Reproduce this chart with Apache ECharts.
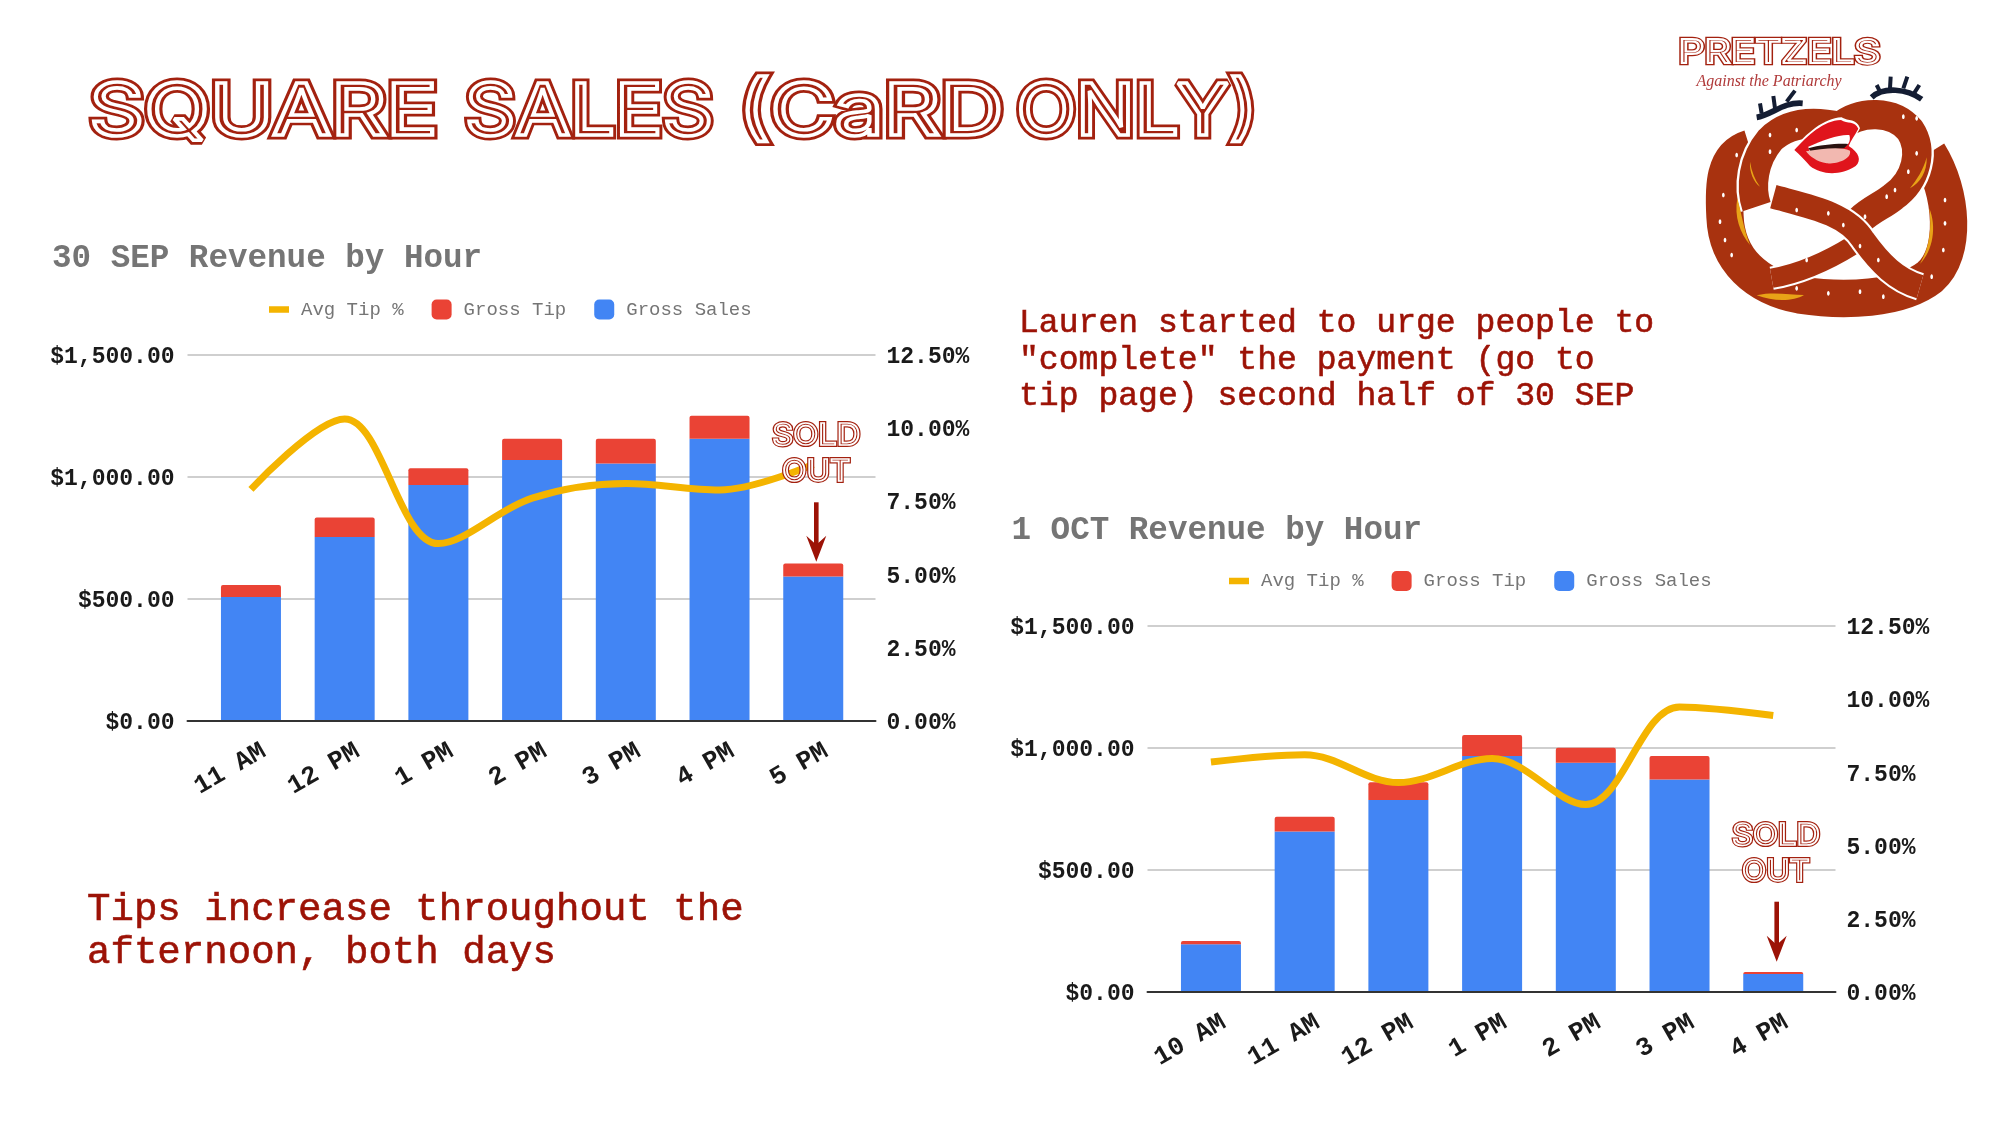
<!DOCTYPE html>
<html lang="en">
<head>
  <meta charset="UTF-8">
  <title>Square Sales</title>
  <script src="https://cdn.jsdelivr.net/npm/echarts@6/dist/echarts.min.js"></script>
  <style>
    html, body { margin: 0; padding: 0; background: #fff; }
    #main { width: 2000px; height: 1125px; }
  </style>
</head>
<body>
  <div id="main"></div>
  <script type="text/javascript">
    // 30 SEP
    var sepHours = ['11 AM', '12 PM', '1 PM', '2 PM', '3 PM', '4 PM', '5 PM'];
    var sepSales = [508, 753, 966, 1068, 1054, 1155, 591];
    var sepTips = [49, 80, 68, 87, 101, 94, 54];
    var sepTipPct = [7.9, 10.3, 6.05, 7.6, 8.1, 7.88, 8.75];

    // 1 OCT
    var octHours = ['10 AM', '11 AM', '12 PM', '1 PM', '2 PM', '3 PM', '4 PM'];
    var octSales = [196, 658, 787, 967, 939, 871, 75];
    var octTips = [14, 60, 72, 86, 61, 96, 8];
    var octTipPct = [7.85, 8.1, 7.15, 7.97, 6.4, 9.73, 9.44];

    var legendNames = ['Avg Tip %', 'Gross Tip', 'Gross Sales'];

    var MONO = '"Liberation Mono", monospace';
    var DARK_RED = '#9c1206';
    var STRIPE = '#a3210f';
    var BROWN = '#a8320f';
    var YELLOW = '#f4b400';
    // thin sliver at x=0 keeps the path box square, so the bar stays flat in the legend
    var LINE_ICON = 'path://M0 0L0.01 0L0.01 20L0 20Z M0 6.7H20V13.3H0Z';

    var myChart = echarts.init(document.getElementById('main'));

    // pile of outlined copies, gives the concentric stripes of the original lettering
    function stripedText(text, x, y, size, widths, sx) {
      var font = size + 'px Inter, sans-serif';
      return widths.map(function (w, i) {
        return {
          type: 'text',
          z: 100,
          silent: true,
          x: x, y: y, scaleX: sx || 1,
          style: {
            text: text, x: 0, y: 0, font: font,
            align: 'center', verticalAlign: 'middle',
            fill: i === 0 ? STRIPE : 'none',
            stroke: i % 2 === 0 ? STRIPE : '#fff',
            lineWidth: w, lineJoin: 'round'
          }
        };
      });
    }

    function plainText(text, x, y, size, color, bold) {
      return {
        type: 'text',
        z: 100,
        style: {
          text: text, x: x, y: y,
          font: (bold ? 'bold ' : '') + size + 'px ' + MONO,
          fill: color, stroke: bold ? 'none' : color, lineWidth: bold ? 0 : 0.6,
          verticalAlign: 'middle'
        }
      };
    }

    function arrow(x, y0, y1) {
      return [{
        type: 'line', z: 100,
        shape: { x1: x, y1: y0, x2: x, y2: y1 - 12 },
        style: { stroke: DARK_RED, lineWidth: 4.6 }
      }, {
        type: 'polygon', z: 100,
        shape: { points: [[x - 10, y1 - 26], [x, y1 - 17], [x + 10, y1 - 26], [x, y1]] },
        style: { fill: DARK_RED }
      }];
    }

    // the graphic component has no plain path type, so logo paths are registered as shapes
    var pathCount = 0;
    function pathEl(d, style) {
      var name = 'logoPath' + (pathCount++);
      echarts.graphic.registerShape(name, echarts.graphic.extendPath(d));
      return { type: name, style: style };
    }
    function stroke(d, color, w) {
      return pathEl(d, { fill: 'none', stroke: color, lineWidth: w, lineCap: 'butt' });
    }
    function shape(d, color) {
      return pathEl(d, { fill: color });
    }

    // logo, in the coordinates of a 1020x930 box
    function logo() {
      var outer = 'M 270 385 C 190 410 190 500 195 590 C 200 720 290 800 420 825 C 550 845 720 840 810 770 C 890 700 880 520 805 400';
      var heart = 'M 290 560 C 270 500 280 420 330 360 C 380 310 450 300 540 320 C 600 270 700 270 750 330 C 790 390 770 480 700 530 C 670 555 630 570 600 600';
      var armA = 'M 335 775 C 420 760 500 725 580 675';
      var armB = 'M 340 530 C 450 560 560 580 610 660 C 660 730 710 780 780 800';
      var salt = [[330, 345], [410, 330], [330, 395], [770, 400], [745, 455], [705, 510], [680, 530], [615, 590], [505, 580], [550, 615], [410, 570],
        [600, 678], [655, 720], [440, 720], [190, 525], [180, 605], [195, 660], [215, 705], [855, 540], [855, 610], [850, 690], [815, 770],
        [410, 805], [505, 820], [600, 815], [670, 830], [230, 405], [730, 290], [770, 295]];
      var kids = [
        stroke(outer, BROWN, 112),
        stroke(heart, '#fff', 102),
        stroke(heart, BROWN, 88),
        stroke(armA, '#fff', 70),
        stroke(armA, BROWN, 58),
        stroke(armB, '#fff', 84),
        stroke(armB, BROWN, 72),
        shape('M 270 425 C 275 455 285 480 300 500 C 280 485 268 455 270 425 Z', '#e8a317'),
        shape('M 232 535 C 222 590 240 640 270 675 C 250 625 245 580 232 535 Z', '#e8a317'),
        shape('M 800 412 C 790 450 770 480 750 505 C 780 490 802 455 800 412 Z', '#e8a317'),
        shape('M 808 565 C 830 620 820 690 780 732 C 810 680 815 625 808 565 Z', '#e8a317'),
        shape('M 290 826 C 340 815 390 825 432 825 C 400 845 340 845 290 826 Z', '#e8a317'),
        shape('M 395 392 C 440 340 490 295 545 292 C 565 305 590 295 600 325 C 590 345 578 362 572 378 C 605 395 612 425 592 442 C 540 475 480 472 445 442 C 430 422 415 405 395 392 Z', '#fff'),
        shape('M 403 390 C 445 345 490 302 543 300 C 562 312 585 302 595 326 C 585 345 572 362 566 378 C 598 398 605 422 587 438 C 540 468 485 465 450 438 C 435 420 420 405 403 390 Z', '#e0141c'),
        shape('M 445 380 C 490 360 540 342 568 345 C 572 358 568 368 562 375 L 448 392 Z', '#fff'),
        shape('M 445 385 C 480 375 530 370 565 372 L 552 385 L 452 394 Z', '#2a1210'),
        shape('M 438 394 C 480 388 540 378 570 392 C 575 418 530 432 500 430 C 470 425 450 410 438 394 Z', '#f2b8b0'),
        stroke('M 290 292 C 335 285 370 245 428 250', '#141d33', 17),
        stroke('M 305 280 L 300 250 M 345 265 L 340 228 M 380 245 L 405 212', '#141d33', 12),
        stroke('M 635 232 C 670 200 740 205 785 238', '#141d33', 17),
        stroke('M 660 215 L 650 195 M 690 205 L 692 170 M 730 205 L 742 170 M 762 220 L 778 195', '#141d33', 12)
      ];
      salt.forEach(function (p) {
        kids.push({ type: 'ellipse', shape: { cx: p[0], cy: p[1], rx: 4, ry: 7 }, style: { fill: '#fff' } });
      });
      return {
        type: 'group', x: 1660, y: 20, scaleX: 1 / 3, scaleY: 1 / 3, z: 90, silent: true,
        children: kids
      };
    }

    var TITLE_BANDS = [9, 3.6];
    var SMALL_BANDS = [4, 1.7];

    var graphics = [].concat(
      stripedText('SQUARE', 263.5, 113, 72, TITLE_BANDS, 1.19),
      stripedText('SALES', 589, 113, 72, TITLE_BANDS, 1.1),
      stripedText('(CaRD', 871, 113, 72, TITLE_BANDS, 1.22),
      stripedText('ONLY)', 1137, 113, 72, TITLE_BANDS, 1.085),
      plainText('30 SEP Revenue by Hour', 52, 259, 32.6, '#757575', true),
      plainText('1 OCT Revenue by Hour', 1011.5, 531, 32.6, '#757575', true),
      plainText('Lauren started to urge people to', 1019, 323, 33.1, DARK_RED, false),
      plainText('"complete" the payment (go to', 1019, 360, 33.1, DARK_RED, false),
      plainText('tip page) second half of 30 SEP', 1019, 396, 33.1, DARK_RED, false),
      plainText('Tips increase throughout the', 87, 909.5, 39.1, DARK_RED, false),
      plainText('afternoon, both days', 87, 952.5, 39.1, DARK_RED, false),
      stripedText('SOLD', 816.3, 435.5, 30, SMALL_BANDS, 1.09),
      stripedText('OUT', 816.3, 472, 30, SMALL_BANDS, 1.05),
      stripedText('SOLD', 1776, 835.5, 30, SMALL_BANDS, 1.09),
      stripedText('OUT', 1776, 872, 30, SMALL_BANDS, 1.05),
      arrow(816.3, 502.3, 561.7),
      arrow(1776.7, 901.7, 961.7),
      stripedText('PRETZELS', 1779.5, 53, 32, [4.4, 2], 1.27),
      [{
        type: 'text', z: 100,
        style: {
          text: 'Against the Patriarchy', x: 1769, y: 82,
          font: 'italic 16px "Liberation Serif", serif', fill: '#b03a3a',
          align: 'center', verticalAlign: 'middle'
        }
      }, logo()]
    );

    // each chart: an outer grid holding the rules and value labels, an inner one for the marks
    function panel(i, left, top, hours, sales, tips, pct, legendLeft, legendTop) {
      var outerW = 688;
      var innerL = left + 16.6;
      var innerW = 656;
      var h = 366.5;
      var g = i * 2;
      var yBase = { type: 'value', min: 0 };
      return {
        grid: [
          { left: left, top: top, width: outerW, height: h },
          { left: innerL, top: top, width: innerW, height: h }
        ],
        xAxis: [
          {
            gridIndex: g, type: 'value', min: 0, max: 1, splitLine: { show: false },
            axisTick: { show: false }, axisLabel: { show: false },
            axisLine: { show: true, lineStyle: { color: '#333', width: 2 } }, z: 5
          },
          {
            gridIndex: g + 1, type: 'category', data: hours,
            axisLine: { show: false }, axisTick: { show: false },
            axisLabel: {
              rotate: 30, margin: 36, color: '#1a1a1a', interval: 0,
              padding: [0, -15, 0, 0],
              fontFamily: MONO, fontSize: 26, fontWeight: 'bold'
            }
          }
        ],
        yAxis: [
          Object.assign({}, yBase, {
            gridIndex: g, position: 'left', max: 1500, interval: 500,
            axisLine: { show: false }, axisTick: { show: false },
            splitLine: { lineStyle: { color: '#cfcfcf', width: 2 } },
            axisLabel: {
              margin: 13, color: '#1a1a1a', fontFamily: MONO, fontSize: 23, fontWeight: 'bold',
              verticalAlign: 'top', lineHeight: 5,
              formatter: function (v) {
                return '$' + v.toLocaleString('en-US', { minimumFractionDigits: 2 });
              }
            }
          }),
          Object.assign({}, yBase, {
            gridIndex: g, position: 'right', max: 12.5, interval: 2.5,
            axisLine: { show: false }, axisTick: { show: false }, splitLine: { show: false },
            axisLabel: {
              margin: 11, color: '#1a1a1a', fontFamily: MONO, fontSize: 23, fontWeight: 'bold',
              verticalAlign: 'top', lineHeight: 5,
              formatter: function (v) { return v.toFixed(2) + '%'; }
            }
          }),
          Object.assign({}, yBase, { gridIndex: g + 1, max: 1500, show: false, splitLine: { show: false } }),
          Object.assign({}, yBase, { gridIndex: g + 1, max: 12.5, show: false, splitLine: { show: false } })
        ],
        series: [
          {
            name: 'Gross Sales', type: 'bar', stack: 'total' + i, data: sales, barWidth: 60,
            xAxisIndex: g + 1, yAxisIndex: i * 4 + 2, itemStyle: { color: '#4285f4' }
          },
          {
            name: 'Gross Tip', type: 'bar', stack: 'total' + i, data: tips, barWidth: 60,
            xAxisIndex: g + 1, yAxisIndex: i * 4 + 2, itemStyle: { color: '#ea4335', borderRadius: [2, 2, 0, 0] }
          },
          {
            name: 'Avg Tip %', type: 'line', data: pct, smooth: 0.35, symbol: 'none', z: 6,
            xAxisIndex: g + 1, yAxisIndex: i * 4 + 3,
            lineStyle: { color: YELLOW, width: 7 }, itemStyle: { color: YELLOW }
          }
        ],
        legend: {
          left: legendLeft, top: legendTop, itemWidth: 20, itemHeight: 20,
          data: legendNames.map(function (n, k) {
            return k === 0 ? { name: n, icon: LINE_ICON } : { name: n };
          }),
          itemGap: 28, selectedMode: false, padding: 0,
          textStyle: { color: '#757575', fontFamily: MONO, fontSize: 19, padding: [0, 0, 0, 7] }
        }
      };
    }

    var a = panel(0, 187.5, 354.5, sepHours, sepSales, sepTips, sepTipPct, 269, 299.5);
    var b = panel(1, 1147.5, 625.7, octHours, octSales, octTips, octTipPct, 1229, 571);

    var option = {
      animation: false,
      backgroundColor: '#fff',
      textStyle: { fontFamily: MONO },
      grid: a.grid.concat(b.grid),
      xAxis: a.xAxis.concat(b.xAxis),
      yAxis: a.yAxis.concat(b.yAxis),
      series: a.series.concat(b.series),
      legend: [a.legend, b.legend],
      graphic: graphics
    };

    myChart.setOption(option);
  </script>
</body>
</html>
